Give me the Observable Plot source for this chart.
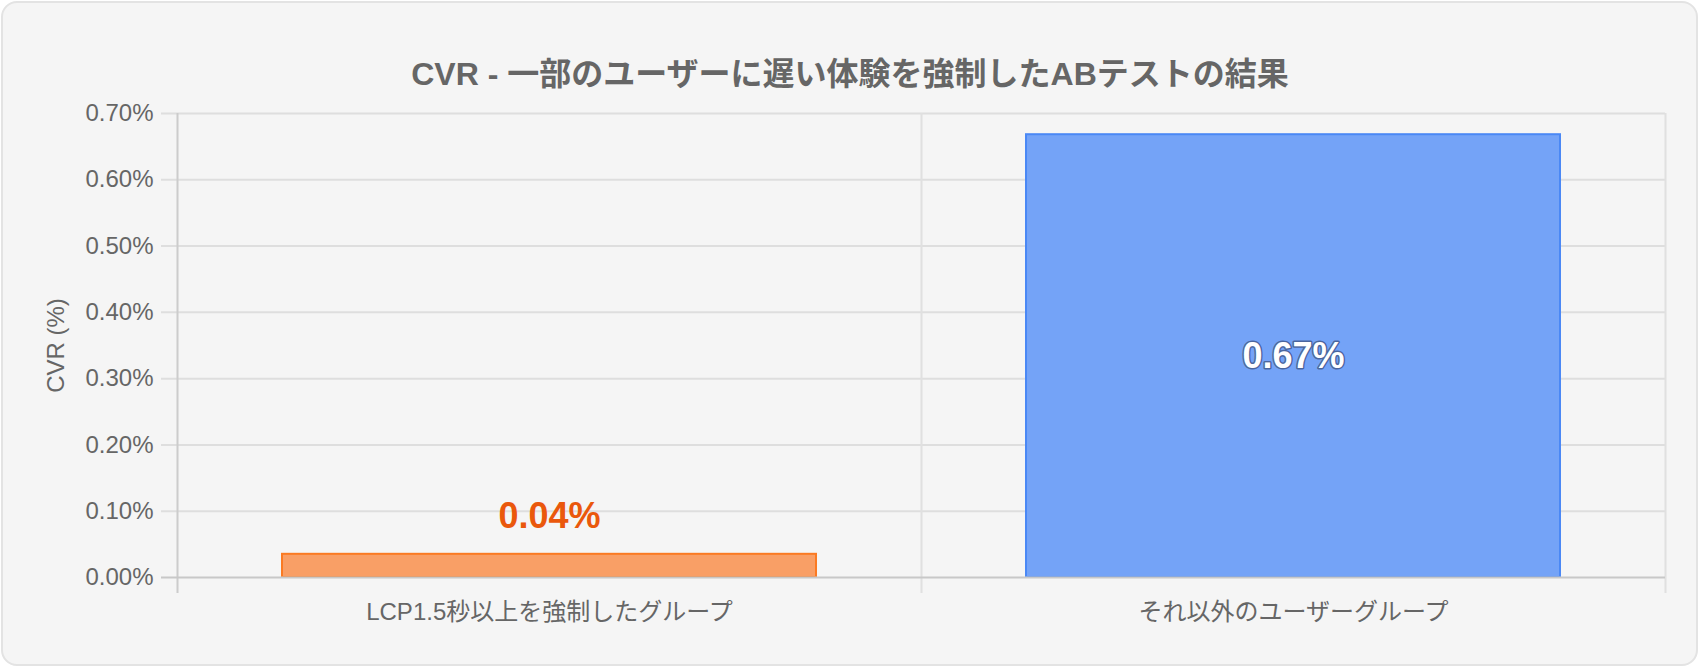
<!DOCTYPE html>
<html>
<head>
<meta charset="utf-8">
<script src="https://cdn.jsdelivr.net/npm/d3@7"></script>
<script src="https://cdn.jsdelivr.net/npm/@observablehq/plot@0.6"></script>
<style>
  html, body { margin: 0; padding: 0; background: #ffffff; }
  body { position: relative; width: 1700px; height: 668px; overflow: hidden;
         font-family: "Liberation Sans", "Noto Sans CJK JP", sans-serif; }
  #card { position: absolute; left: 1px; top: 1px; width: 1697px; height: 665px;
          box-sizing: border-box; border: 2px solid #e3e3e3; border-radius: 16px; background: #f5f5f5; }
  #title { position: absolute; left: 0; top: 54px; width: 1700px; text-align: center;
           line-height: 40px; font-size: 32px; font-weight: bold; color: #666666; }
  #chart { position: absolute; left: 0; top: 96px; }
</style>
</head>
<body>
<div id="card"></div>
<div id="title">CVR - 一部のユーザーに遅い体験を強制したABテストの結果</div>
<div id="chart"></div>
<script>
// ---- data ----
const categories = ["LCP1.5秒以上を強制したグループ", "それ以外のユーザーグループ"];
const cvrValues = [0.035, 0.668];           // CVR in %
const yTicks = [0, 0.1, 0.2, 0.3, 0.4, 0.5, 0.6, 0.7];
const yTitle = "CVR (%)";

// ---- styles ----
const barFills = ["#f99f66", "#74a3f7"];
const barStrokes = ["#fb7a22", "#4a88f5"];
const labelColors = ["#ea580c", "#ffffff"];

const data = categories.map((c, i) => ({group: c, cvr: cvrValues[i], i}));
const fmt = v => d3.format(".2f")(v) + "%";

const W = 1700, H = 560;
const mL = 177, mR = 35, mT = 17, mB = 79;
const halfStep = (W - mL - mR) / categories.length / 2;
const font = '"Liberation Sans", "Noto Sans CJK JP", sans-serif';

const chart = Plot.plot({
  width: W, height: H,
  marginLeft: mL, marginRight: mR, marginTop: mT, marginBottom: mB,
  style: {background: "transparent", color: "#666666", fontFamily: font, fontSize: "24px", overflow: "visible"},
  x: {type: "band", domain: categories, paddingInner: 0.28, paddingOuter: 0.14, axis: null},
  y: {domain: [0, 0.7], axis: null},
  marks: [
    // horizontal grid
    Plot.ruleY(yTicks.filter(d => d > 0), {y: d => d, stroke: "#dedede", strokeWidth: 2, insetLeft: -16}),
    // vertical grid at band boundaries
    Plot.ruleX(categories.slice(1), {x: d => d, dx: -halfStep, stroke: "#e0e0e0", strokeWidth: 2, insetBottom: -16}),
    Plot.ruleX(categories.slice(-1), {x: d => d, dx: halfStep, stroke: "#e0e0e0", strokeWidth: 2, insetBottom: -16}),
    // y axis line
    Plot.ruleX(categories.slice(0, 1), {x: d => d, dx: -halfStep, stroke: "#cccccc", strokeWidth: 2, insetBottom: -16}),
    // bars
    Plot.barY(data, {x: "group", y: "cvr", fill: d => barFills[d.i], stroke: d => barStrokes[d.i], strokeWidth: 2, insetLeft: 1, insetRight: 1}),
    // zero line
    Plot.ruleY([0], {stroke: "#c8c8c8", strokeWidth: 2, insetLeft: -16}),
    // axes
    Plot.axisY({ticks: yTicks, tickFormat: d => fmt(d), tickSize: 0, tickPadding: 24, fontSize: 24, fill: "#666666", label: null}),
    Plot.axisX({tickSize: 0, tickPadding: 25, fontSize: 24, fill: "#666666", label: null}),
    // y title
    Plot.text([yTitle], {frameAnchor: "left", text: d => d, rotate: -90, dx: -121, fontSize: 24, fill: "#666666", textAnchor: "middle", lineAnchor: "middle"}),
    // value labels: outside for small bars
    Plot.text(data.filter(d => d.cvr < 0.2), {x: "group", y: "cvr", text: d => fmt(d.cvr), fill: d => labelColors[d.i],
      fontSize: 36, fontWeight: "bold", lineAnchor: "bottom", dy: -26}),
    // inside for large bars
    Plot.text(data.filter(d => d.cvr >= 0.2), {x: "group", y: d => d.cvr / 2, text: d => fmt(d.cvr), fill: d => labelColors[d.i],
      fontSize: 36, fontWeight: "bold", lineAnchor: "middle", stroke: "rgba(40,50,80,0.55)", strokeWidth: 3, paintOrder: "stroke"})
  ]
});
document.getElementById("chart").appendChild(chart);
</script>
</body>
</html>
